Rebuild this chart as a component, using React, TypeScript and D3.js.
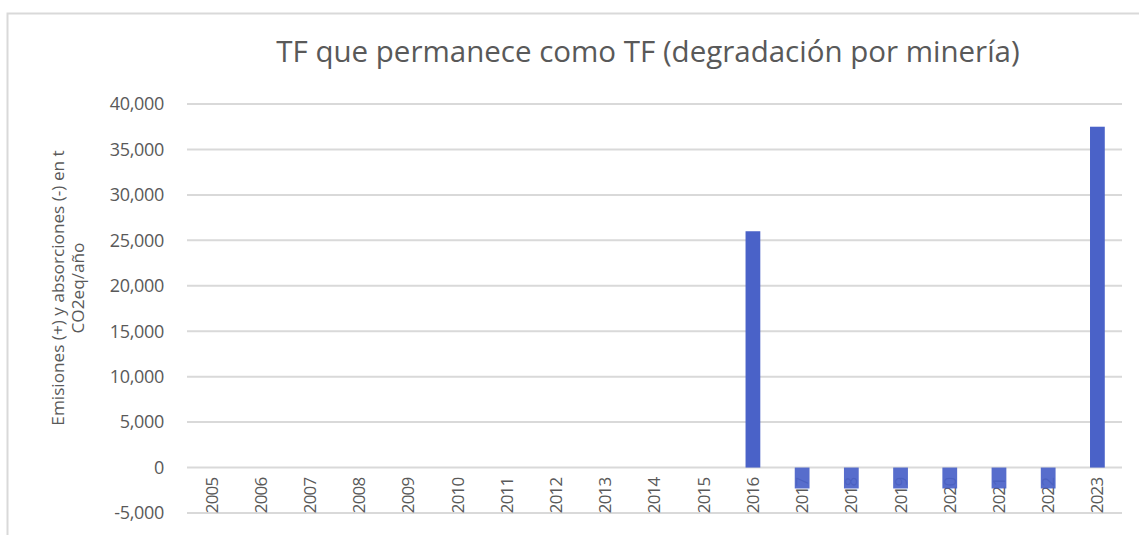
import React, { useEffect, useRef } from 'react';
import * as d3 from 'd3';

const years = ['2005', '2006', '2007', '2008', '2009', '2010', '2011', '2012', '2013', '2014', '2015', '2016', '2017', '2018', '2019', '2020', '2021', '2022', '2023'];
const values = [0, 0, 0, 0, 0, 0, 0, 0, 0, 0, 0, 26000, -2300, -2300, -2300, -2300, -2300, -2300, 37500];
const yTicks = [-5000, 0, 5000, 10000, 15000, 20000, 25000, 30000, 35000, 40000];
const title = 'TF que permanece como TF (degradación por minería)';
const yTitle = ['Emisiones (+) y absorciones (-) en t', 'CO2eq/año'];

const W = 1139;
const H = 535;
const font = '"Open Sans", "Noto Sans", sans-serif';

export default function App() {
	const ref = useRef<SVGSVGElement>(null);

	useEffect(() => {
		const svg = d3.select(ref.current);
		svg.selectAll('*').remove();

		const left = 187;
		const right = 1122;

		const x = d3.scaleBand().domain(years).range([left, right]).paddingInner(0.7).paddingOuter(0.35);
		const y = d3.scaleLinear().domain([-5000, 40000]).range([513, 104]);
		const fmt = (d: number) => d3.format(',')(d).replace('−', '-');

		// chart border
		svg.append('rect')
			.attr('x', 7.5)
			.attr('y', 13.5)
			.attr('width', W)
			.attr('height', H)
			.attr('fill', '#fff')
			.attr('stroke', '#d9d9d9')
			.attr('stroke-width', 2);

		svg.append('text')
			.attr('x', 648)
			.attr('y', 62)
			.attr('text-anchor', 'middle')
			.attr('font-family', font)
			.attr('font-size', 29.5)
			.attr('fill', '#595959')
			.text(title);

		// gridlines
		svg.append('g')
			.selectAll('line')
			.data(yTicks)
			.enter()
			.append('line')
			.attr('x1', left)
			.attr('x2', right)
			.attr('y1', d => y(d))
			.attr('y2', d => y(d))
			.attr('stroke', '#d9d9d9')
			.attr('stroke-width', 2);

		// y tick labels
		svg.append('g')
			.selectAll('text')
			.data(yTicks)
			.enter()
			.append('text')
			.attr('x', 164)
			.attr('y', d => y(d))
			.attr('dy', '0.35em')
			.attr('text-anchor', 'end')
			.attr('font-family', font)
			.attr('font-size', 18)
			.attr('letter-spacing', -0.3)
			.attr('fill', '#595959')
			.text(d => fmt(d));

		// axis title
		const yt = svg.append('text')
			.attr('transform', 'translate(58, 288) rotate(-90)')
			.attr('text-anchor', 'middle')
			.attr('font-family', font)
			.attr('font-size', 17.2)
			.attr('fill', '#595959');
		yTitle.forEach((t, i) => {
			yt.append('tspan')
				.attr('x', 0)
				.attr('y', i * 20)
				.attr('dy', '0.35em')
				.text(t);
		});

		// category labels (drawn before bars, bars cover them)
		svg.append('g')
			.selectAll('text')
			.data(years)
			.enter()
			.append('text')
			.attr('transform', d => `translate(${x(d)! + x.bandwidth() / 2}, ${y(0) + 10}) rotate(-90)`)
			.attr('dy', '0.35em')
			.attr('text-anchor', 'end')
			.attr('font-family', font)
			.attr('font-size', 17)
			.attr('letter-spacing', -0.8)
			.attr('fill', '#595959')
			.text(d => d);

		// bars
		svg.append('g')
			.selectAll('rect')
			.data(values.map((v, i) => ({ year: years[i], v })).filter(d => d.v !== 0))
			.enter()
			.append('rect')
			.attr('x', d => x(d.year)!)
			.attr('width', x.bandwidth())
			.attr('y', d => y(Math.max(0, d.v)))
			.attr('height', d => Math.abs(y(d.v) - y(0)))
			.attr('fill', '#4a62c8')
			.attr('fill-opacity', d => (d.v < 0 ? 0.93 : 1));
	}, []);

	return (
		<svg
			ref={ref}
			width={W}
			height={H}
			style={{ position: 'absolute', left: 0, top: 0, background: '#fff' }}
		/>
	);
}
